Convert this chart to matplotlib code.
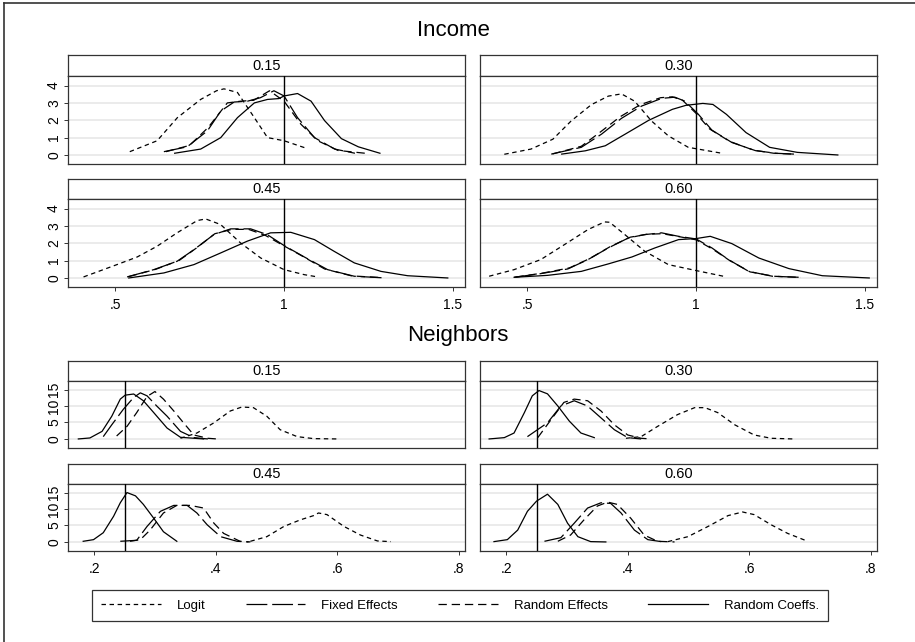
import matplotlib

matplotlib.use("Agg")
import matplotlib.pyplot as plt  # noqa: E402
from matplotlib.lines import Line2D  # noqa: E402

plt.rcParams["font.family"] = ["Liberation Sans", "DejaVu Sans"]
plt.rcParams["lines.scale_dashes"] = False

# kernel density traces, (estimate, density) pairs per model and scenario
INC_15_LOGIT = [(0.543, 0.19), (0.624, 0.82), (0.684, 2.15), (0.753, 3.2), (0.80, 3.7), (0.822, 3.81),
                (0.862, 3.6), (0.912, 2.15), (0.951, 1.0), (1.0, 0.82), (1.07, 0.36)]
INC_15_FE = [(0.644, 0.19), (0.713, 0.47), (0.773, 1.39), (0.8125, 2.53), (0.852, 3.05), (0.892, 3.1),
             (0.93, 3.3), (0.97, 3.7), (1.0, 3.4), (1.04, 2.15), (1.09, 1.0), (1.15, 0.34), (1.21, 0.1)]
INC_15_RE = [(0.65, 0.19), (0.72, 0.55), (0.775, 1.58), (0.832, 3.0), (0.872, 3.1), (0.91, 3.15),
             (0.957, 3.7), (1.0, 3.1), (1.05, 1.77), (1.1, 0.82), (1.16, 0.26), (1.24, 0.1)]
INC_15_RC = [(0.676, 0.1), (0.753, 0.34), (0.8125, 1.0), (0.862, 2.15), (0.912, 3.0), (0.951, 3.2),
             (0.985, 3.25), (1.0, 3.4), (1.04, 3.54), (1.08, 3.1), (1.12, 1.98), (1.17, 0.94),
             (1.22, 0.47), (1.284, 0.1)]

INC_30_LOGIT = [(0.432, 0.04), (0.511, 0.34), (0.576, 0.91), (0.63, 1.96), (0.69, 2.9), (0.74, 3.39),
                (0.779, 3.52), (0.818, 3.1), (0.868, 1.96), (0.918, 1.1), (0.977, 0.44), (1.076, 0.1)]
INC_30_FE = [(0.571, 0.05), (0.66, 0.44), (0.72, 1.2), (0.779, 2.11), (0.839, 2.82), (0.898, 3.26),
             (0.937, 3.33), (0.967, 3.1), (1.007, 2.34), (1.047, 1.43), (1.106, 0.72), (1.176, 0.25),
             (1.236, 0.1), (1.29, 0.05)]
INC_30_RE = [(0.575, 0.06), (0.66, 0.5), (0.715, 1.3), (0.775, 2.2), (0.835, 2.9), (0.895, 3.3),
             (0.93, 3.35), (0.96, 3.15), (1.0, 2.4), (1.04, 1.5), (1.1, 0.78), (1.17, 0.28),
             (1.23, 0.1), (1.285, 0.05)]
INC_30_RC = [(0.602, 0.05), (0.672, 0.24), (0.731, 0.53), (0.79, 1.2), (0.86, 2.0), (0.93, 2.63),
             (0.97, 2.86), (1.02, 2.97), (1.05, 2.91), (1.09, 2.34), (1.148, 1.29), (1.218, 0.44),
             (1.3, 0.15), (1.42, 0.0)]

INC_45_LOGIT = [(0.406, 0.06), (0.505, 0.77), (0.565, 1.21), (0.624, 1.83), (0.683, 2.6), (0.743, 3.31),
                (0.768, 3.4), (0.812, 3.08), (0.871, 2.02), (0.931, 1.15), (1.0, 0.48), (1.06, 0.19),
                (1.1, 0.06)]
INC_45_FE = [(0.535, 0.06), (0.614, 0.48), (0.683, 0.96), (0.733, 1.63), (0.792, 2.5), (0.842, 2.83),
             (0.901, 2.83), (0.95, 2.5), (1.0, 1.87), (1.06, 1.21), (1.129, 0.48), (1.208, 0.1),
             (1.302, 0.0)]
INC_45_RE = [(0.54, 0.08), (0.62, 0.5), (0.69, 1.02), (0.74, 1.72), (0.795, 2.55), (0.845, 2.8),
             (0.895, 2.8), (0.945, 2.45), (0.995, 1.9), (1.055, 1.25), (1.12, 0.52), (1.2, 0.12),
             (1.29, 0.02)]
INC_45_RC = [(0.54, 0.0), (0.644, 0.29), (0.733, 0.77), (0.812, 1.44), (0.891, 2.12), (0.96, 2.6),
             (1.02, 2.63), (1.09, 2.21), (1.148, 1.54), (1.208, 0.87), (1.287, 0.38), (1.366, 0.13),
             (1.485, 0.0)]

INC_60_LOGIT = [(0.387, 0.1), (0.461, 0.48), (0.54, 1.06), (0.61, 1.92), (0.68, 2.79), (0.729, 3.23),
                (0.744, 3.21), (0.789, 2.5), (0.848, 1.54), (0.918, 0.77), (0.997, 0.44), (1.081, 0.1)]
INC_60_FE = [(0.461, 0.04), (0.54, 0.25), (0.62, 0.52), (0.68, 1.06), (0.74, 1.73), (0.8, 2.31),
             (0.848, 2.5), (0.898, 2.6), (0.948, 2.4), (1.0, 2.25), (1.047, 1.73), (1.096, 1.06),
             (1.156, 0.38), (1.226, 0.1), (1.305, 0.04)]
INC_60_RE = [(0.465, 0.05), (0.545, 0.28), (0.625, 0.58), (0.685, 1.12), (0.745, 1.8), (0.805, 2.35),
             (0.855, 2.52), (0.9, 2.55), (0.95, 2.38), (1.0, 2.2), (1.05, 1.65), (1.1, 1.0),
             (1.16, 0.35), (1.23, 0.1), (1.31, 0.03)]
INC_60_RC = [(0.461, 0.04), (0.56, 0.15), (0.66, 0.38), (0.74, 0.81), (0.81, 1.21), (0.878, 1.73),
             (0.948, 2.21), (1.0, 2.27), (1.042, 2.4), (1.106, 1.98), (1.186, 1.15), (1.275, 0.54),
             (1.374, 0.13), (1.513, 0.0)]

NB_15_LOGIT = [(0.342, 0.2), (0.369, 1.8), (0.397, 4.9), (0.424, 8.5), (0.443, 9.7), (0.462, 9.5),
               (0.484, 6.9), (0.506, 2.8), (0.534, 0.7), (0.561, 0.1), (0.6, 0.0)]
NB_15_FE = [(0.215, 0.7), (0.229, 4.3), (0.248, 9.0), (0.265, 12.6), (0.276, 14.0), (0.287, 13.1),
            (0.303, 10.0), (0.32, 6.9), (0.342, 2.3), (0.364, 0.4), (0.387, 0.0)]
NB_15_RE = [(0.237, 0.9), (0.254, 3.8), (0.27, 8.0), (0.287, 12.9), (0.3, 14.4), (0.314, 12.1),
            (0.331, 8.5), (0.347, 4.9), (0.364, 1.2), (0.387, 0.2), (0.402, 0.0)]
NB_15_RC = [(0.174, 0.0), (0.193, 0.3), (0.213, 2.3), (0.229, 6.9), (0.243, 12.1), (0.251, 13.3),
            (0.265, 13.65), (0.281, 11.6), (0.298, 8.0), (0.32, 3.3), (0.342, 0.5), (0.38, 0.0)]

NB_30_LOGIT = [(0.397, 0.2), (0.422, 0.7), (0.449, 3.8), (0.482, 7.4), (0.51, 9.5), (0.527, 9.5),
               (0.548, 8.0), (0.576, 4.3), (0.608, 1.2), (0.636, 0.2), (0.672, 0.0)]
NB_30_FE = [(0.235, 0.7), (0.268, 4.9), (0.29, 10.0), (0.312, 11.6), (0.334, 10.0), (0.356, 6.4),
            (0.378, 2.8), (0.4, 0.4), (0.422, 0.0)]
NB_30_RE = [(0.252, 0.4), (0.274, 5.9), (0.295, 11.1), (0.312, 12.1), (0.334, 11.6), (0.356, 8.5),
            (0.378, 4.3), (0.4, 1.2), (0.422, 0.2), (0.438, 0.0)]
NB_30_RC = [(0.172, 0.0), (0.197, 0.4), (0.213, 1.8), (0.23, 8.0), (0.243, 13.1), (0.254, 14.7),
            (0.268, 13.7), (0.285, 10.0), (0.304, 5.4), (0.323, 1.8), (0.345, 0.4)]

NB_45_LOGIT = [(0.457, 0.2), (0.484, 1.6), (0.512, 4.7), (0.539, 6.7), (0.561, 8.0), (0.569, 8.8),
               (0.583, 8.3), (0.611, 4.7), (0.638, 2.1), (0.666, 0.3), (0.688, 0.1)]
NB_45_FE = [(0.243, 0.2), (0.27, 0.5), (0.287, 4.7), (0.309, 9.3), (0.331, 11.1), (0.353, 11.1),
            (0.369, 8.8), (0.386, 5.2), (0.408, 1.6), (0.435, 0.2), (0.454, 0.0)]
NB_45_RE = [(0.259, 0.2), (0.276, 0.7), (0.292, 3.6), (0.314, 8.8), (0.336, 11.1), (0.358, 11.1),
            (0.38, 10.3), (0.397, 5.7), (0.413, 2.6), (0.44, 0.2), (0.457, 0.0)]
NB_45_RC = [(0.182, 0.2), (0.199, 0.7), (0.215, 2.8), (0.232, 7.8), (0.243, 11.9), (0.254, 15.0),
            (0.268, 14.0), (0.281, 11.4), (0.298, 7.2), (0.314, 3.1), (0.336, 0.2)]

NB_60_LOGIT = [(0.466, 0.1), (0.499, 1.6), (0.532, 4.7), (0.565, 8.0), (0.589, 9.1), (0.608, 8.3),
               (0.636, 5.2), (0.663, 2.6), (0.696, 0.2)]
NB_60_FE = [(0.263, 0.2), (0.29, 1.3), (0.312, 5.7), (0.334, 10.3), (0.356, 11.9), (0.372, 11.7),
            (0.389, 8.8), (0.411, 3.6), (0.433, 0.7), (0.455, 0.1)]
NB_60_RE = [(0.285, 0.2), (0.306, 2.1), (0.328, 6.7), (0.35, 10.9), (0.367, 12.1), (0.383, 11.4),
            (0.405, 7.2), (0.427, 2.1), (0.449, 0.2), (0.477, 0.0)]
NB_60_RC = [(0.18, 0.1), (0.202, 0.7), (0.219, 3.6), (0.235, 9.3), (0.25, 12.4), (0.268, 14.5),
            (0.285, 11.4), (0.301, 5.7), (0.318, 1.6), (0.339, 0.1), (0.364, 0.0)]

MODELS = ["Logit", "Fixed Effects", "Random Effects", "Random Coeffs."]
SCENARIOS = ["0.15", "0.30", "0.45", "0.60"]
INCOME = [[INC_15_LOGIT, INC_15_FE, INC_15_RE, INC_15_RC],
          [INC_30_LOGIT, INC_30_FE, INC_30_RE, INC_30_RC],
          [INC_45_LOGIT, INC_45_FE, INC_45_RE, INC_45_RC],
          [INC_60_LOGIT, INC_60_FE, INC_60_RE, INC_60_RC]]
NEIGHBORS = [[NB_15_LOGIT, NB_15_FE, NB_15_RE, NB_15_RC],
             [NB_30_LOGIT, NB_30_FE, NB_30_RE, NB_30_RC],
             [NB_45_LOGIT, NB_45_FE, NB_45_RE, NB_45_RC],
             [NB_60_LOGIT, NB_60_FE, NB_60_RE, NB_60_RC]]
INCOME_TRUE = 1.0
NEIGHBORS_TRUE = 0.25
INCOME_XTICKS = [0.5, 1.0, 1.5]
INCOME_XLABELS = [".5", "1", "1.5"]
INCOME_YTICKS = [0, 1, 2, 3, 4]
NEIGHBORS_XTICKS = [0.2, 0.4, 0.6, 0.8]
NEIGHBORS_XLABELS = [".2", ".4", ".6", ".8"]
NEIGHBORS_YTICKS = [0, 5, 10, 15]

W, H = 915, 642
EDGE = "#333333"
DASHES = [(0, (3.2, 2.6)), (0, (15, 3.5)), (0, (6, 3.5)), "-"]


def box(x0, y0, x1, y1):
    """Pixel box (top-left origin) -> figure fraction rect."""
    return [x0 / W, 1 - y1 / H, (x1 - x0) / W, (y1 - y0) / H]


def panel(fig, label, curves, x0, x1, strip_top, plot_top, plot_bottom,
          xlim, ylim, xticks, xlabels, yticks, vline, show_x, show_y):
    strip = fig.add_axes(box(x0, strip_top, x1, plot_top))
    strip.set_xticks([])
    strip.set_yticks([])
    for sp in strip.spines.values():
        sp.set_color(EDGE)
        sp.set_linewidth(0.9)
    strip.text(0.5, 0.5, label, ha="center", va="center", fontsize=10.5,
               transform=strip.transAxes)

    ax = fig.add_axes(box(x0, plot_top, x1, plot_bottom))
    lines = []
    for pts, ls in zip(curves, DASHES):
        xs = [p[0] for p in pts]
        ys = [p[1] for p in pts]
        ln, = ax.plot(xs, ys, color="black", lw=0.9, linestyle=ls)
        lines.append(ln)
    ax.axvline(vline, color="black", lw=1.0, zorder=3)
    ax.set_xlim(*xlim)
    ax.set_ylim(*ylim)
    ax.set_yticks(yticks)
    ax.yaxis.grid(True, color="#e9e9e9", lw=1.3)
    ax.set_axisbelow(True)
    for sp in ax.spines.values():
        sp.set_color(EDGE)
        sp.set_linewidth(0.9)
    ax.tick_params(colors=EDGE, labelcolor="black", labelsize=10, length=3, width=0.7)
    if show_y:
        ax.set_yticklabels([str(t) for t in yticks], rotation=90, va="center")
        ax.tick_params(axis="y", pad=2)
    else:
        ax.tick_params(axis="y", left=False, labelleft=False)
    if show_x:
        ax.set_xticks(xticks)
        ax.set_xticklabels(xlabels)
        ax.tick_params(axis="x", pad=5)
    else:
        ax.set_xticks([])
    return lines


fig = plt.figure(figsize=(W / 100, H / 100), dpi=100)

# frame around the combined graph
fig.add_artist(Line2D([4 / W, 4 / W], [0, 1 - 3 / H], color=EDGE, lw=1.2))
fig.add_artist(Line2D([4 / W, 1], [1 - 3 / H, 1 - 3 / H], color=EDGE, lw=1.2))

fig.text(0.496, 1 - 31 / H, "Income", ha="center", va="center", fontsize=16)
fig.text(0.5, 1 - 335 / H, "Neighbors", ha="center", va="center", fontsize=16)

cols = [(68, 465), (480, 877)]
inc_rows = [(55, 76, 164), (179, 199, 287)]
nb_rows = [(361, 381, 448), (464, 484, 551)]

handles = None
for i, (label, curves) in enumerate(zip(SCENARIOS, INCOME)):
    r, c = divmod(i, 2)
    x0, x1 = cols[c]
    st, pt, pb = inc_rows[r]
    handles = panel(fig, label, curves, x0, x1, st, pt, pb, (0.36, 1.536), (-0.52, 4.55),
                    INCOME_XTICKS, INCOME_XLABELS, INCOME_YTICKS, INCOME_TRUE,
                    show_x=(r == 1), show_y=(c == 0))

for i, (label, curves) in enumerate(zip(SCENARIOS, NEIGHBORS)):
    r, c = divmod(i, 2)
    x0, x1 = cols[c]
    st, pt, pb = nb_rows[r]
    panel(fig, label, curves, x0, x1, st, pt, pb, (0.157, 0.81), (-2.75, 17.6),
          NEIGHBORS_XTICKS, NEIGHBORS_XLABELS, NEIGHBORS_YTICKS, NEIGHBORS_TRUE,
          show_x=(r == 1), show_y=(c == 0))

leg = fig.legend(handles, MODELS, loc="center", bbox_to_anchor=box(92, 590, 828, 621),
                 mode="expand", ncol=4, fontsize=9.5, handlelength=4.5, handletextpad=1.2,
                 borderpad=0.7, borderaxespad=0, fancybox=False, framealpha=1)
leg.get_frame().set_edgecolor(EDGE)
leg.get_frame().set_linewidth(0.9)

fig.savefig("out.png", dpi=100)
plt.close(fig)
